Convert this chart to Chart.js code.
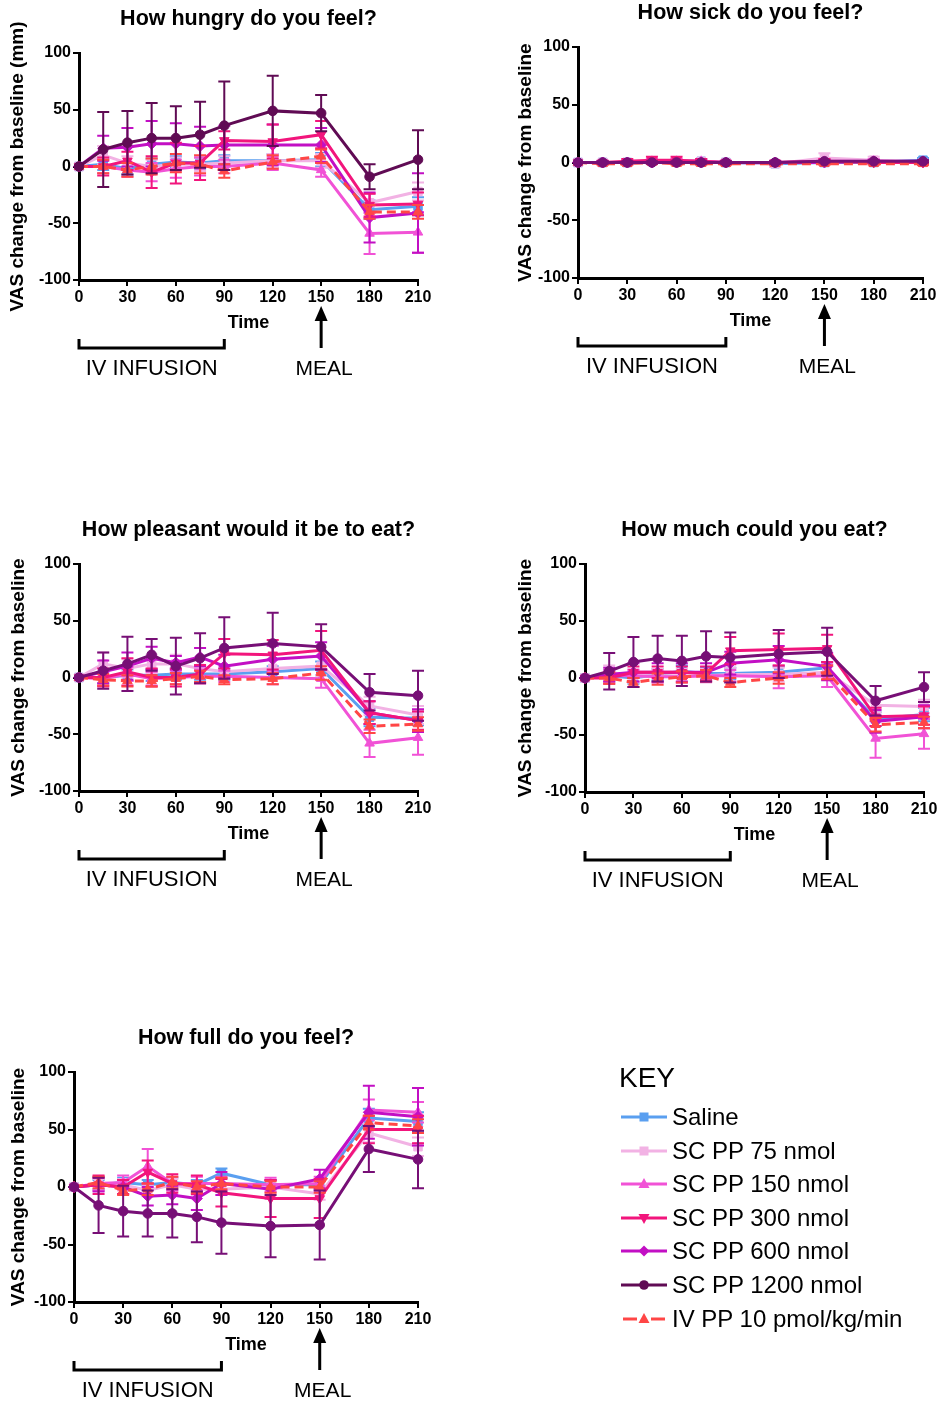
<!DOCTYPE html>
<html>
<head>
<meta charset="utf-8">
<title>PP dose response: VAS ratings</title>
<script src="https://cdn.jsdelivr.net/npm/chart.js@4.4.0/dist/chart.umd.min.js"></script>
<style>
  html, body { margin: 0; padding: 0; background: #fff; }
  body { width: 941px; height: 1404px; position: relative; overflow: hidden;
         font-family: "Liberation Sans", Arial, sans-serif; color: #000; }
  canvas { position: absolute; }
  #key { position: absolute; left: 0; top: 0; width: 941px; height: 1404px; pointer-events: none; }
  .key-title { position: absolute; left: 619px; top: 1061px; font-size: 28px; line-height: 34px; }
  .key-row { position: absolute; left: 621px; height: 30px; display: flex; align-items: center; font-size: 24px; white-space: nowrap; }
  .key-row svg { width: 46px; height: 16px; margin-right: 5px; flex: none; }
</style>
</head>
<body>
<canvas id="hungry"></canvas>
<canvas id="sick"></canvas>
<canvas id="pleasant"></canvas>
<canvas id="much"></canvas>
<canvas id="full"></canvas>
<div id="key"></div>

<script>
// ---- sampling times (min) and axis ticks ----
const times  = [0, 15, 30, 45, 60, 75, 90, 120, 150, 180, 210];
const xTicks = [0, 30, 60, 90, 120, 150, 180, 210];
const yTicks = [-100, -50, 0, 50, 100];
const infusionWindow = [0, 90];
const mealTime = 150;

// ---- treatment groups ----
const seriesNames = ['Saline', 'SC PP 75 nmol', 'SC PP 150 nmol', 'SC PP 300 nmol',
                     'SC PP 600 nmol', 'SC PP 1200 nmol', 'IV PP 10 pmol/kg/min'];

// ---- How hungry do you feel? (mean, SEM) ----
const hungrySaline    = [0, 2, -2, 2, 4, 3, 5, 5, 6, -38, -35];
const hungrySalineErr = [0, 5, 5, 5, 5, 5, 5, 6, 6, 8, 8];
const hungrySc75      = [0, 10, 3, 0, 2, 2, 3, 5, 5, -32, -22];
const hungrySc75Err   = [0, 8, 6, 6, 6, 6, 6, 6, 6, 8, 8];
const hungrySc150     = [0, 0, -3, -5, -2, 0, 0, 3, -3, -59, -58];
const hungrySc150Err  = [0, 6, 6, 8, 8, 8, 6, 6, 6, 18, 18];
const hungrySc300     = [0, 0, 5, -5, 3, 3, 23, 22, 28, -34, -33];
const hungrySc300Err  = [0, 8, 8, 14, 18, 15, 8, 15, 12, 10, 10];
const hungrySc600     = [0, 16, 17, 20, 20, 18, 19, 19, 19, -45, -41];
const hungrySc600Err  = [0, 11, 17, 20, 18, 17, 17, 18, 15, 22, 35];
const hungrySc1200    = [0, 15, 21, 25, 25, 28, 36, 49, 47, -9, 6];
const hungrySc1200Err = [0, 33, 28, 31, 28, 29, 39, 31, 16, 11, 26];
const hungryIv        = [0, 0, -3, 0, 3, 2, -4, 4, 9, -40, -40];
const hungryIvErr     = [0, 6, 6, 7, 8, 8, 6, 6, 6, 6, 6];

// ---- How sick do you feel? ----
const sickSaline    = [0, 0, 0, 1, 1, 1, 0, -1, 0, 0, 2];
const sickSalineErr = [0, 1, 1, 1, 1, 1, 1, 1, 1, 1, 2];
const sickSc75      = [0, 0, 0, 1, 1, 1, 0, -1, 4, 2, 0];
const sickSc75Err   = [0, 2, 2, 2, 2, 2, 2, 3, 4, 3, 2];
const sickSc150     = [0, 0, 0, 1, 1, 1, 0, 0, 1, 1, 0];
const sickSc150Err  = [0, 1, 1, 2, 2, 2, 1, 1, 2, 2, 2];
const sickSc300     = [0, 0, 1, 2, 2, 1, 0, 0, 1, 0, 0];
const sickSc300Err  = [0, 1, 2, 3, 3, 2, 1, 1, 2, 1, 1];
const sickSc600     = [0, 0, 0, 0, 0, 0, 0, 0, 0, 1, 1];
const sickSc600Err  = [0, 1, 1, 1, 1, 1, 1, 1, 1, 1, 1];
const sickSc1200    = [0, 0, 0, 0, 0, 0, 0, 0, 1, 1, 1];
const sickSc1200Err = [0, 1, 1, 1, 1, 1, 1, 1, 1, 1, 1];
const sickIv        = [0, -1, -1, 0, -1, -1, -1, -1, -1, -1, -1];
const sickIvErr     = [0, 1, 1, 1, 1, 1, 1, 1, 1, 1, 1];

// ---- How pleasant would it be to eat? ----
const pleasantSaline    = [0, 0, 2, 2, 3, 3, 3, 5, 8, -35, -36];
const pleasantSalineErr = [0, 5, 5, 5, 5, 5, 5, 5, 6, 8, 6];
const pleasantSc75      = [0, 12, 8, 12, 12, 8, 5, 8, 10, -25, -33];
const pleasantSc75Err   = [0, 10, 8, 8, 8, 8, 6, 8, 8, 8, 8];
const pleasantSc150     = [0, -1, 3, -1, 0, 1, 1, 0, -1, -58, -53];
const pleasantSc150Err  = [0, 6, 6, 6, 6, 6, 5, 6, 8, 12, 15];
const pleasantSc300     = [0, 0, 5, 0, 0, 3, 21, 20, 24, -31, -38];
const pleasantSc300Err  = [0, 8, 12, 8, 8, 8, 13, 13, 17, 10, 8];
const pleasantSc600     = [0, 5, 10, 17, 13, 18, 10, 16, 19, -31, -38];
const pleasantSc600Err  = [0, 10, 12, 10, 6, 8, 10, 12, 12, 10, 10];
const pleasantSc1200    = [0, 6, 12, 20, 10, 17, 26, 30, 27, -13, -16];
const pleasantSc1200Err = [0, 16, 24, 14, 25, 22, 27, 27, 20, 16, 22];
const pleasantIv        = [0, -2, -3, -3, -1, 1, -2, -1, 4, -43, -41];
const pleasantIvErr     = [0, 5, 5, 5, 5, 5, 4, 5, 6, 6, 6];

// ---- How much could you eat? ----
const muchSaline    = [0, 2, 0, 3, 6, 4, 4, 5, 9, -36, -32];
const muchSalineErr = [0, 5, 5, 5, 5, 5, 5, 5, 5, 6, 6];
const muchSc75      = [0, 5, 2, 2, 2, 2, 3, 3, 5, -24, -25];
const muchSc75Err   = [0, 6, 6, 6, 6, 6, 6, 6, 6, 6, 6];
const muchSc150     = [0, 2, 2, 1, 1, 2, 2, 1, 2, -53, -49];
const muchSc150Err  = [0, 5, 5, 5, 5, 5, 5, 10, 10, 17, 13];
const muchSc300     = [0, 0, 5, 5, 5, 4, 24, 25, 26, -34, -33];
const muchSc300Err  = [0, 5, 5, 5, 5, 6, 12, 14, 12, 8, 8];
const muchSc600     = [0, 3, 5, 5, 5, 5, 13, 16, 10, -38, -34];
const muchSc600Err  = [0, 6, 8, 8, 8, 8, 10, 12, 12, 10, 10];
const muchSc1200    = [0, 6, 14, 17, 15, 19, 18, 21, 23, -20, -8];
const muchSc1200Err = [0, 16, 22, 20, 22, 22, 22, 21, 21, 13, 13];
const muchIv        = [0, 0, -4, -1, 1, 2, -4, 0, 5, -41, -39];
const muchIvErr     = [0, 5, 4, 5, 5, 5, 4, 5, 6, 6, 5];

// ---- How full do you feel? ----
const fullSaline    = [0, 2, 4, 2, 4, 2, 12, 2, 2, 60, 57];
const fullSalineErr = [0, 4, 4, 4, 4, 4, 4, 4, 4, 8, 8];
const fullSc75      = [0, 2, 2, -3, 2, -2, -2, 0, -6, 47, 35];
const fullSc75Err   = [0, 5, 5, 5, 5, 5, 5, 5, 5, 8, 8];
const fullSc150     = [0, 3, 4, 18, 3, 3, 3, 2, 3, 67, 65];
const fullSc150Err  = [0, 6, 6, 15, 6, 6, 6, 6, 6, 9, 9];
const fullSc300     = [0, 2, 0, 13, 3, 2, -5, -10, -10, 50, 50];
const fullSc300Err  = [0, 8, 6, 10, 8, 8, 12, 16, 17, 12, 12];
const fullSc600     = [0, 2, 0, -8, -7, -10, 3, -2, 7, 65, 61];
const fullSc600Err  = [0, 6, 6, 8, 8, 10, 10, 8, 8, 23, 25];
const fullSc1200    = [0, -16, -21, -23, -23, -26, -31, -34, -33, 33, 24];
const fullSc1200Err = [0, 24, 22, 20, 21, 22, 27, 27, 30, 20, 25];
const fullIv        = [0, 4, -3, -2, 4, 0, 3, 0, 0, 56, 53];
const fullIvErr     = [0, 5, 4, 5, 5, 5, 5, 5, 5, 6, 6];

// ---- series styling ----
const seriesColors  = ['#5a9ff0', '#f2b2e4', '#f152d6', '#f2157c', '#c20fc4', '#600b54', '#ff4646'];
const seriesMarkers = ['rect', 'rect', 'triangle', 'triangle', 'rectRot', 'circle', 'triangle'];
const seriesMarkerRotation = [0, 0, 0, 180, 0, 0, 0];
const seriesMarkerRadius   = [6, 6, 5.5, 5.5, 5.5, 4.8, 5.5];
const seriesDash    = [[], [], [], [], [], [], [9, 5]];
const seriesOrder   = [6, 5, 4, 2, 3, 0, 1];   // lower is drawn on top

// ---- panels ----
const panels = [
  { id: 'hungry',   title: 'How hungry do you feel?',          yTitle: 'VAS change from baseline (mm)',
    means: [hungrySaline, hungrySc75, hungrySc150, hungrySc300, hungrySc600, hungrySc1200, hungryIv],
    errs:  [hungrySalineErr, hungrySc75Err, hungrySc150Err, hungrySc300Err, hungrySc600Err, hungrySc1200Err, hungryIvErr] },
  { id: 'sick',     title: 'How sick do you feel?',            yTitle: 'VAS change from baseline',
    means: [sickSaline, sickSc75, sickSc150, sickSc300, sickSc600, sickSc1200, sickIv],
    errs:  [sickSalineErr, sickSc75Err, sickSc150Err, sickSc300Err, sickSc600Err, sickSc1200Err, sickIvErr] },
  { id: 'pleasant', title: 'How pleasant would it be to eat?', yTitle: 'VAS change from baseline',
    means: [pleasantSaline, pleasantSc75, pleasantSc150, pleasantSc300, pleasantSc600, pleasantSc1200, pleasantIv],
    errs:  [pleasantSalineErr, pleasantSc75Err, pleasantSc150Err, pleasantSc300Err, pleasantSc600Err, pleasantSc1200Err, pleasantIvErr] },
  { id: 'much',     title: 'How much could you eat?',          yTitle: 'VAS change from baseline',
    means: [muchSaline, muchSc75, muchSc150, muchSc300, muchSc600, muchSc1200, muchIv],
    errs:  [muchSalineErr, muchSc75Err, muchSc150Err, muchSc300Err, muchSc600Err, muchSc1200Err, muchIvErr] },
  { id: 'full',     title: 'How full do you feel?',            yTitle: 'VAS change from baseline',
    means: [fullSaline, fullSc75, fullSc150, fullSc300, fullSc600, fullSc1200, fullIv],
    errs:  [fullSalineErr, fullSc75Err, fullSc150Err, fullSc300Err, fullSc600Err, fullSc1200Err, fullIvErr] }
];

// canvas placement, plot-area box inside each canvas (px) and the 1200 nmol line tint
const panelBoxes = {
  hungry:   { left: 0,   top: 0,    w: 440, h: 395, padL: 6,  area: [79, 53, 418, 280], topDoseColor: '#600b54' },
  sick:     { left: 500, top: 0,    w: 441, h: 395, padL: 14, area: [78, 47, 423, 278], topDoseColor: '#770f76' },
  pleasant: { left: 0,   top: 510,  w: 440, h: 395, padL: 7,  area: [79, 54, 418, 281], topDoseColor: '#770f76' },
  much:     { left: 500, top: 510,  w: 441, h: 395, padL: 14, area: [85, 54, 424, 282], topDoseColor: '#770f76' },
  full:     { left: 0,   top: 1020, w: 440, h: 384, padL: 7,  area: [74, 52, 418, 282], topDoseColor: '#770f76' }
};

const FONT = '"Liberation Sans", Arial, Helvetica, sans-serif';
const X_SCALE_HEIGHT = 54;

// vertical SEM bars with caps, drawn just under each dataset's own line
const errorBars = {
  id: 'errorBars',
  beforeDatasetDraw(chart, args) {
    const ds = chart.data.datasets[args.index];
    if (!ds.errors) return;
    const yScale = chart.scales.y;
    const ctx = chart.ctx;
    ctx.save();
    ctx.strokeStyle = ds.borderColor;
    ctx.lineWidth = 2;
    ctx.setLineDash([]);
    args.meta.data.forEach((pt, i) => {
      const e = ds.errors[i];
      if (!e) return;
      const v = ds.data[i].y;
      const yHi = yScale.getPixelForValue(v + e);
      const yLo = yScale.getPixelForValue(v - e);
      const x = pt.x, cap = 6;
      ctx.beginPath();
      ctx.moveTo(x, yHi); ctx.lineTo(x, yLo);
      ctx.moveTo(x - cap, yHi); ctx.lineTo(x + cap, yHi);
      ctx.moveTo(x - cap, yLo); ctx.lineTo(x + cap, yLo);
      ctx.stroke();
    });
    ctx.restore();
  }
};

// panel heading, infusion bracket and meal arrow, placed on the time axis
const panelDecor = {
  id: 'panelDecor',
  afterDraw(chart, args, opts) {
    const { ctx, chartArea: a, scales: { x } } = chart;
    ctx.save();
    ctx.fillStyle = '#000';
    ctx.strokeStyle = '#000';
    ctx.textAlign = 'center';
    ctx.textBaseline = 'middle';

    ctx.font = 'bold 21.5px ' + FONT;
    ctx.fillText(opts.title, (a.left + a.right) / 2, a.top - 34);

    const x0 = x.getPixelForValue(opts.infusion[0]);
    const x1 = x.getPixelForValue(opts.infusion[1]);
    const yb = a.bottom + 68;
    ctx.lineWidth = 3;
    ctx.lineJoin = 'miter';
    ctx.beginPath();
    ctx.moveTo(x0, yb - 9); ctx.lineTo(x0, yb); ctx.lineTo(x1, yb); ctx.lineTo(x1, yb - 9);
    ctx.stroke();

    const xm = x.getPixelForValue(opts.meal);
    ctx.beginPath();
    ctx.moveTo(xm, a.bottom + 68); ctx.lineTo(xm, a.bottom + 36);
    ctx.stroke();
    ctx.beginPath();
    ctx.moveTo(xm, a.bottom + 26);
    ctx.lineTo(xm - 6.5, a.bottom + 41);
    ctx.lineTo(xm + 6.5, a.bottom + 41);
    ctx.closePath();
    ctx.fill();

    ctx.font = '22px ' + FONT;
    ctx.fillText('IV INFUSION', (x0 + x1) / 2, a.bottom + 89);
    ctx.font = '21px ' + FONT;
    ctx.fillText('MEAL', xm + 3, a.bottom + 89);
    ctx.restore();
  }
};

function axisCommon(tickValues) {
  return {
    type: 'linear',
    ticks: {
      color: '#000', font: { family: FONT, size: 16, weight: 'bold' },
      padding: 2, autoSkip: false, maxRotation: 0
    },
    afterBuildTicks: s => { s.ticks = tickValues.map(v => ({ value: v })); },
    grid: { display: true, drawOnChartArea: false, drawTicks: true, tickLength: 6,
            color: '#000', lineWidth: 2 },
    border: { display: true, color: '#000', width: 3 }
  };
}

panels.forEach(p => {
  const box = panelBoxes[p.id];
  const canvas = document.getElementById(p.id);
  canvas.width = box.w; canvas.height = box.h;
  canvas.style.left = box.left + 'px';
  canvas.style.top = box.top + 'px';
  const [l, t, r, b] = box.area;
  const colors = seriesColors.map((c, k) => (k === 5 ? box.topDoseColor : c));

  const datasets = seriesNames.map((name, k) => ({
    label: name,
    data: times.map((tm, i) => ({ x: tm, y: p.means[k][i] })),
    errors: p.errs[k],
    borderColor: colors[k],
    backgroundColor: colors[k],
    pointBackgroundColor: colors[k],
    pointBorderColor: colors[k],
    pointBorderWidth: 1,
    pointStyle: seriesMarkers[k],
    pointRotation: seriesMarkerRotation[k],
    pointRadius: seriesMarkerRadius[k],
    borderWidth: 3,
    borderDash: seriesDash[k],
    tension: 0,
    fill: false,
    clip: false,
    order: seriesOrder[k]
  }));

  const xAxis = axisCommon(xTicks);
  xAxis.min = 0; xAxis.max = 210;
  xAxis.title = { display: true, text: 'Time', color: '#000',
                  font: { family: FONT, size: 18, weight: 'bold' }, padding: 0 };
  xAxis.afterFit = s => { s.height = X_SCALE_HEIGHT; };

  const yAxis = axisCommon(yTicks);
  yAxis.min = -100; yAxis.max = 100;
  yAxis.title = { display: true, text: p.yTitle, color: '#000',
                  font: { family: FONT, size: 19, weight: 'bold' }, padding: 0 };
  yAxis.afterFit = s => { s.width = l - box.padL; };

  new Chart(canvas, {
    type: 'line',
    data: { datasets },
    options: {
      responsive: false,
      animation: false,
      devicePixelRatio: 1,
      layout: { padding: { left: box.padL, top: t, right: box.w - r, bottom: box.h - b - X_SCALE_HEIGHT } },
      scales: { x: xAxis, y: yAxis },
      plugins: {
        legend: { display: false },
        tooltip: { enabled: false },
        panelDecor: { title: p.title, infusion: infusionWindow, meal: mealTime }
      }
    },
    plugins: [errorBars, panelDecor]
  });
});

// ---- key ----
function markerSvg(k) {
  const c = seriesColors[k];
  const cx = 23, cy = 8;
  let line;
  if (seriesDash[k].length) {
    line = `<line x1="2" y1="${cy}" x2="16" y2="${cy}" stroke="${c}" stroke-width="3"/>` +
           `<line x1="30" y1="${cy}" x2="44" y2="${cy}" stroke="${c}" stroke-width="3"/>`;
  } else {
    line = `<line x1="0" y1="${cy}" x2="46" y2="${cy}" stroke="${c}" stroke-width="3"/>`;
  }
  let m;
  switch (seriesMarkers[k]) {
    case 'rect': m = `<rect x="${cx - 4.5}" y="${cy - 4.5}" width="9" height="9" fill="${c}"/>`; break;
    case 'circle': m = `<circle cx="${cx}" cy="${cy}" r="4.8" fill="${c}"/>`; break;
    case 'rectRot': m = `<polygon points="${cx},${cy - 5.5} ${cx + 5.5},${cy} ${cx},${cy + 5.5} ${cx - 5.5},${cy}" fill="${c}"/>`; break;
    default:
      m = seriesMarkerRotation[k] === 180
        ? `<polygon points="${cx - 5.5},${cy - 4} ${cx + 5.5},${cy - 4} ${cx},${cy + 6}" fill="${c}"/>`
        : `<polygon points="${cx - 5.5},${cy + 4} ${cx + 5.5},${cy + 4} ${cx},${cy - 6}" fill="${c}"/>`;
  }
  return `<svg viewBox="0 0 46 16">${line}${m}</svg>`;
}

const key = document.getElementById('key');
key.innerHTML = '<div class="key-title">KEY</div>' +
  seriesNames.map((name, k) =>
    `<div class="key-row" style="top:${1102 + k * 33.6}px">${markerSvg(k)}<span>${name}</span></div>`
  ).join('');
</script>
</body>
</html>
